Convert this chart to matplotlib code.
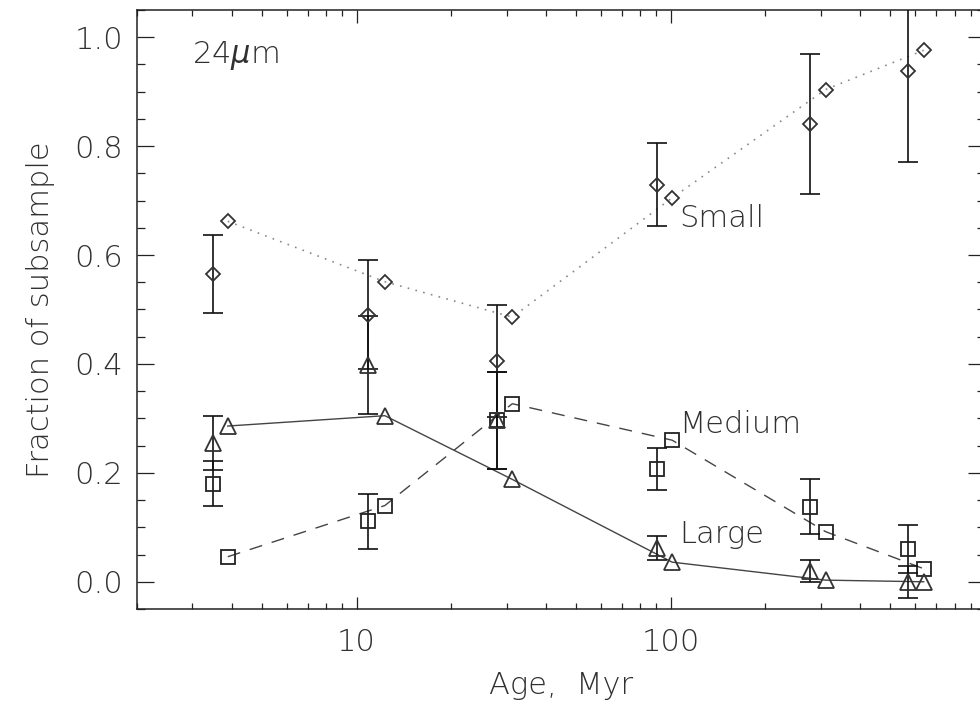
import matplotlib
matplotlib.use("Agg")
import matplotlib.pyplot as plt
from matplotlib.ticker import FixedLocator, NullFormatter, FixedFormatter, MultipleLocator

plt.rcParams['font.family'] = ['DejaVu Sans']
plt.rcParams['font.weight'] = 'light'
plt.rcParams['axes.labelweight'] = 'light'
plt.rcParams['mathtext.fontset'] = 'custom'
plt.rcParams['mathtext.it'] = 'DejaVu Sans:italic:light'
plt.rcParams['mathtext.rm'] = 'DejaVu Sans:light'

# Observed ages (with error bars) and model ages
age_obs = [3.48, 10.9, 27.9, 90.1, 276.7, 569.0]
age_model = [3.89, 12.3, 31.3, 101.0, 311.0, 638.0]

# Observed fractions and errors
small_obs = [0.565, 0.490, 0.406, 0.729, 0.841, 0.938]
small_err = [0.072, 0.100, 0.103, 0.076, 0.129, 0.168]
medium_obs = [0.180, 0.111, 0.297, 0.207, 0.138, 0.061]
medium_err = [0.041, 0.051, 0.089, 0.039, 0.050, 0.044]
large_obs = [0.255, 0.398, 0.297, 0.062, 0.020, 0.000]
large_err = [0.049, 0.090, 0.089, 0.022, 0.020, 0.029]

# Model fractions
small_model = [0.662, 0.551, 0.486, 0.705, 0.904, 0.976]
medium_model = [0.046, 0.140, 0.327, 0.260, 0.092, 0.024]
large_model = [0.286, 0.305, 0.188, 0.036, 0.003, 0.000]

series_labels = ["Small", "Medium", "Large"]
band_label = "24$\\mu$m"
xlabel = "Age,  Myr"
ylabel = "Fraction of subsample"
yticks = [0.0, 0.2, 0.4, 0.6, 0.8, 1.0]
ytick_labels = ["0.0", "0.2", "0.4", "0.6", "0.8", "1.0"]
xticks = [10, 100, 1000]
xtick_labels = ["10", "100", ""]

TXT = '#303030'
FS = 22

fig = plt.figure(figsize=(9.8, 7.12), dpi=100)
ax = fig.add_axes([137/980, 1-609/712, (985-137)/980, (609-10)/712])

# model lines
ax.plot(age_model, small_model, linestyle=(0, (1, 3.8)), color='#8a8a8a', lw=1.2,
        marker='D', ms=7.6, mfc='none', mec='#333333', mew=1.3, zorder=2)
ax.plot(age_model, medium_model, linestyle=(0, (9.4, 7.2)), color='#444444', lw=1.0,
        marker='s', ms=10.5, mfc='none', mec='#222222', mew=1.3, zorder=2)
ax.plot(age_model, large_model, linestyle='-', color='#444444', lw=1.0,
        marker='^', ms=11, mfc='none', mec='#333333', mew=1.3, zorder=2)

# observed with error bars
ekw = dict(fmt='none', ecolor='#111111', elinewidth=1.2, capsize=7.2, capthick=1.2, zorder=3)
ax.errorbar(age_obs, small_obs, yerr=small_err, **ekw)
ax.errorbar(age_obs, medium_obs, yerr=medium_err, **ekw)
ax.errorbar(age_obs, large_obs, yerr=large_err, **ekw)
ax.plot(age_obs, small_obs, ls='none', marker='D', ms=7.6, mfc='none', mec='#333333', mew=1.3, zorder=4)
ax.plot(age_obs, medium_obs, ls='none', marker='s', ms=10.5, mfc='none', mec='#222222', mew=1.3, zorder=4)
ax.plot(age_obs, large_obs, ls='none', marker='^', ms=11, mfc='none', mec='#333333', mew=1.3, zorder=4)

ax.set_xscale('log')
ax.set_xlim(2, 1000)
ax.set_ylim(-0.05, 1.05)

ax.xaxis.set_major_locator(FixedLocator(xticks))
ax.xaxis.set_major_formatter(FixedFormatter(xtick_labels))
minors = [m * d for d in (1, 10, 100) for m in range(2, 10)]
ax.xaxis.set_minor_locator(FixedLocator(minors))
ax.xaxis.set_minor_formatter(NullFormatter())
ax.yaxis.set_major_locator(FixedLocator(yticks))
ax.yaxis.set_major_formatter(FixedFormatter(ytick_labels))
ax.yaxis.set_minor_locator(MultipleLocator(0.05))

ax.tick_params(axis='both', which='both', direction='in', top=True, right=True,
               colors='#222222', labelcolor=TXT, labelsize=FS)
ax.tick_params(axis='x', which='major', length=9, width=0.9, pad=14)
ax.tick_params(axis='x', which='minor', length=4.5, width=0.9)
ax.tick_params(axis='y', which='major', length=12, width=0.9, pad=10)
ax.tick_params(axis='y', which='minor', length=6, width=0.9)
for s in ax.spines.values():
    s.set_linewidth(1.1)
    s.set_color('#222222')

ax.set_xlabel(xlabel, fontsize=FS, color=TXT, labelpad=10, fontweight='light')
ax.set_ylabel(ylabel, fontsize=FS, color=TXT, labelpad=14, fontweight='light')

ax.text(106, 0.668, series_labels[0], fontsize=FS, color=TXT, va='center', ha='left')
ax.text(106, 0.288, series_labels[1], fontsize=FS, color=TXT, va='center', ha='left')
ax.text(106, 0.087, series_labels[2], fontsize=FS, color=TXT, va='center', ha='left')
ax.text(3.0, 0.967, band_label, fontsize=FS, color=TXT, va='center', ha='left')

fig.savefig('out.png', dpi=100)
